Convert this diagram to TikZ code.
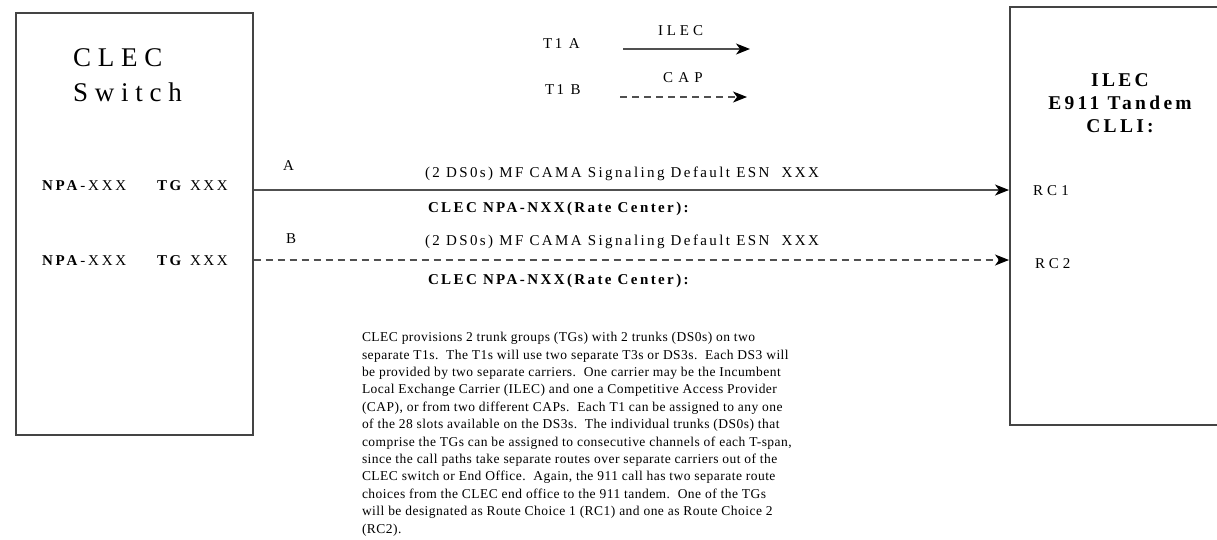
\documentclass[tikz,border=0pt]{standalone}
\usepackage{fontspec}
\setmainfont{Liberation Serif}
\usetikzlibrary{arrows.meta}
\definecolor{edge}{HTML}{444444}
\definecolor{wire}{HTML}{505050}
\newcommand\lsp[1]{\addfontfeature{LetterSpace=#1}}
\newcommand\fs[2]{\fontsize{#1}{#2}\selectfont}
\begin{document}
\begin{tikzpicture}[x=1pt,y=-1pt,
  box/.style={draw=edge, line width=1.6pt, anchor=north west, inner sep=0},
  txt/.style={anchor=base west, inner sep=0, outer sep=0},
  trunk/.style={draw=wire, line width=1.4pt, -{Stealth[length=14pt,width=11pt,inset=4pt,color=black]}},
  dsh/.style={dash pattern=on 7pt off 5pt}]
\useasboundingbox (0,0) rectangle (1217,539);
\fill[white] (0,0) rectangle (1217,539);
% boxes
\node[box, minimum width=237pt, minimum height=422pt] (clec) at (15,12) {};
\node[box, minimum width=260pt, minimum height=418pt] (tandem) at (1009,6) {};
% left box texts (base anchor = last line)
\node[txt, align=left, font=\fs{27}{35}\lsp{25}] (title) at (73,101) {CLEC\\Switch};
\node[txt, font=\fs{15}{18}\lsp{19}] (npa1) at (42,190) {\textbf{NPA}-XXX};
\node[txt, font=\fs{15}{18}\lsp{17}] (tg1) at (157,190) {\textbf{TG} XXX};
\node[txt, font=\fs{15}{18}\lsp{19}] (npa2) at (42,265) {\textbf{NPA}-XXX};
\node[txt, font=\fs{15}{18}\lsp{17}] (tg2) at (157,265) {\textbf{TG} XXX};
% right box title
\node[anchor=base, inner sep=0, align=center, font=\fs{19.5}{23}\bfseries\lsp{17}] (ttl) at (1120,132)
  {ILEC\\E911 Tandem\\CLLI:};
\node[txt, font=\fs{15}{18}\lsp{28}] (rc1) at (1033,195) {RC1};
\node[txt, font=\fs{15}{18}\lsp{26}] (rc2) at (1035,268) {RC2};
% legend
\node[txt, font=\fs{15}{18}\lsp{18}] (t1a) at (543,48) {T1 A};
\node[txt, font=\fs{15}{18}\lsp{26}] (lilec) at (658,35) {ILEC};
\node[txt, font=\fs{15}{18}\lsp{35}] (lcap) at (663,82) {CAP};
\node[txt, font=\fs{15}{18}\lsp{17}] (t1b) at (545,94) {T1 B};
\coordinate (la1) at (623,49);
\coordinate (la2) at (750,49);
\coordinate (lb1) at (620,97);
\coordinate (lb2) at (747,97);
\draw[trunk] (la1) -- (la2);
\draw[trunk, dsh] (lb1) -- (lb2);
% trunk A and B
\coordinate (ya) at (0,190);
\coordinate (yb) at (0,260);
\draw[trunk] (clec.east |- ya) -- (tandem.west |- ya);
\draw[trunk, dsh] (clec.east |- yb) -- (tandem.west |- yb);
\node[txt, font=\fs{15}{18}] (la) at (283,170) {A};
\node[txt, font=\fs{15}{18}] (lb) at (286,243) {B};
\node[txt, font=\fs{15}{18}\lsp{16}] (sa) at (425,177) {(2 DS0s) MF CAMA Signaling Default ESN\ \ XXX};
\node[txt, font=\fs{15}{18}\lsp{16}] (sb) at (425,245) {(2 DS0s) MF CAMA Signaling Default ESN\ \ XXX};
\node[txt, font=\fs{15}{18}\bfseries\lsp{16}] (ca) at (428,212) {CLEC NPA-NXX(Rate Center):};
\node[txt, font=\fs{15}{18}\bfseries\lsp{16}] (cb) at (428,284) {CLEC NPA-NXX(Rate Center):};
% paragraph
\node[txt, align=left, font=\fs{13.5}{17.4}\lsp{3.5}] (para) at (362,533) {%
CLEC provisions 2 trunk groups (TGs) with 2 trunks (DS0s) on two\\
separate T1s.\ \ The T1s will use two separate T3s or DS3s.\ \ Each DS3 will\\
be provided by two separate carriers.\ \ One carrier may be the Incumbent\\
Local Exchange Carrier (ILEC) and one a Competitive Access Provider\\
(CAP), or from two different CAPs.\ \ Each T1 can be assigned to any one\\
of the 28 slots available on the DS3s.\ \ The individual trunks (DS0s) that\\
comprise the TGs can be assigned to consecutive channels of each T-span,\\
since the call paths take separate routes over separate carriers out of the\\
CLEC switch or End Office.\ \ Again, the 911 call has two separate route\\
choices from the CLEC end office to the 911 tandem.\ \ One of the TGs\\
will be designated as Route Choice 1 (RC1) and one as Route Choice 2\\
(RC2).};
\end{tikzpicture}
\end{document}
